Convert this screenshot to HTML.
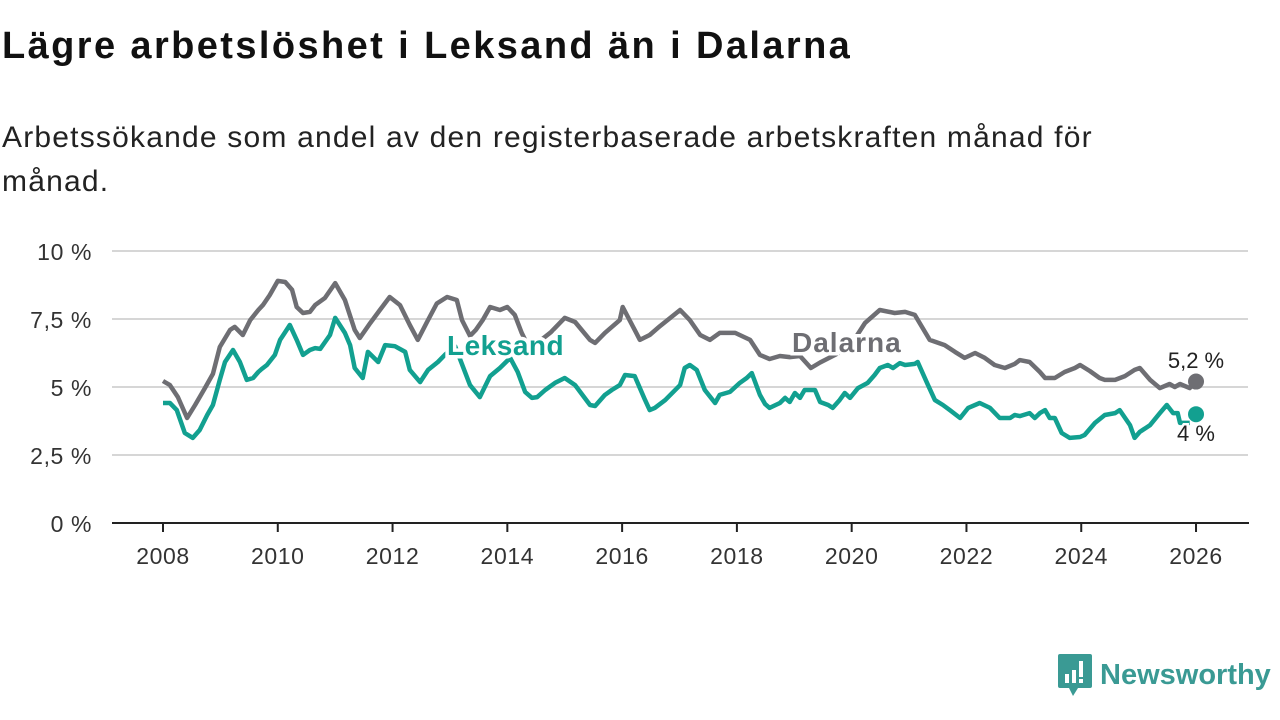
<!DOCTYPE html>
<html><head><meta charset="utf-8"><style>
body{margin:0;width:1280px;height:720px;background:#fff;font-family:"Liberation Sans","DejaVu Sans",sans-serif;overflow:hidden;position:relative}
#title{position:absolute;left:2px;top:25px;font-size:38px;font-weight:bold;color:#111;margin:0;letter-spacing:2.4px;white-space:nowrap}
#sub{position:absolute;left:2px;top:116px;font-size:30px;line-height:44px;color:#222;width:1200px;letter-spacing:1.2px}
svg{position:absolute;left:0;top:0}
#logo{position:absolute;left:1058px;top:654px;display:flex;align-items:center}
#logo span{font-size:29px;font-weight:bold;color:#3a9a94;margin-left:8px}
</style></head><body>
<h1 id="title">Lägre arbetslöshet i Leksand än i Dalarna</h1>
<div id="sub">Arbetssökande som andel av den registerbaserade arbetskraften månad för<br>månad.</div>
<svg id="chart" width="1280" height="720"></svg>
<div id="logo">
<svg width="34" height="42" viewBox="0 0 34 42" style="position:static"><path d="M2 0h30a2 2 0 0 1 2 2v30a2 2 0 0 1-2 2H20l-5 8-4-8H2a2 2 0 0 1-2-2V2a2 2 0 0 1 2-2z" fill="#3a9a94"/><rect x="7" y="20" width="4" height="9" fill="#fff"/><rect x="14" y="16" width="4" height="13" fill="#fff"/><rect x="21" y="7" width="4" height="16" fill="#fff"/><rect x="21" y="25" width="4" height="4" fill="#fff"/></svg>
<span>Newsworthy</span></div>
<script>
const yTicks=[0,2.5,5,7.5,10];
const yTickLabels=["0 %","2,5 %","5 %","7,5 %","10 %"];
const xTicks=[2008,2010,2012,2014,2016,2018,2020,2022,2024,2026];
const dalT=[0,0.12,0.26,0.42,0.56,0.73,0.87,0.99,1.17,1.25,1.39,1.52,1.66,1.74,1.86,2.00,2.13,2.25,2.33,2.44,2.56,2.65,2.82,3.00,3.17,3.34,3.43,3.61,3.78,3.95,4.13,4.30,4.44,4.60,4.77,4.95,5.12,5.21,5.35,5.45,5.57,5.70,5.87,6.00,6.13,6.25,6.34,6.57,6.76,7.00,7.18,7.44,7.53,7.70,7.96,8.01,8.31,8.48,8.66,9.01,9.18,9.36,9.53,9.70,9.97,10.23,10.40,10.57,10.75,10.92,11.10,11.29,11.45,11.71,11.97,12.23,12.49,12.75,12.93,13.10,13.36,13.62,13.80,13.97,14.15,14.32,14.49,14.67,14.84,14.93,15.10,15.28,15.37,15.54,15.71,15.89,15.98,16.15,16.32,16.41,16.59,16.76,16.93,17.02,17.20,17.37,17.54,17.63,17.72,17.89,18.00];
const dalV=[5.22,5.07,4.63,3.86,4.34,4.96,5.48,6.47,7.10,7.21,6.91,7.46,7.83,8.01,8.38,8.90,8.86,8.57,7.94,7.72,7.76,8.01,8.27,8.82,8.20,7.10,6.80,7.35,7.83,8.31,8.01,7.28,6.73,7.39,8.07,8.31,8.20,7.46,6.88,7.10,7.46,7.94,7.83,7.94,7.65,6.99,6.60,6.70,7.02,7.54,7.39,6.73,6.62,6.99,7.46,7.94,6.73,6.91,7.24,7.83,7.46,6.91,6.73,6.99,6.99,6.73,6.18,6.03,6.14,6.10,6.14,5.70,5.90,6.18,6.50,7.35,7.83,7.72,7.76,7.65,6.73,6.54,6.29,6.07,6.25,6.07,5.81,5.70,5.85,5.99,5.92,5.55,5.33,5.33,5.55,5.70,5.81,5.59,5.33,5.26,5.26,5.40,5.63,5.70,5.26,4.96,5.11,5.00,5.11,4.96,5.22];
const lekT=[0,0.12,0.24,0.38,0.52,0.64,0.77,0.87,0.99,1.08,1.22,1.34,1.46,1.57,1.66,1.72,1.81,1.95,2.04,2.13,2.21,2.33,2.44,2.56,2.65,2.74,2.91,3.00,3.17,3.26,3.34,3.48,3.57,3.75,3.87,4.04,4.22,4.30,4.48,4.62,4.79,4.91,5.09,5.35,5.52,5.70,5.87,6.05,6.18,6.31,6.43,6.52,6.66,6.83,7.00,7.18,7.44,7.53,7.70,7.82,7.96,8.05,8.22,8.40,8.48,8.57,8.75,9.01,9.09,9.18,9.30,9.44,9.62,9.70,9.88,10.05,10.17,10.26,10.40,10.49,10.57,10.75,10.84,10.92,11.01,11.10,11.18,11.36,11.45,11.59,11.67,11.79,11.88,11.97,12.11,12.28,12.40,12.49,12.63,12.72,12.84,12.93,13.10,13.15,13.33,13.45,13.59,13.71,13.89,14.03,14.23,14.41,14.58,14.76,14.84,14.93,15.10,15.19,15.28,15.37,15.45,15.54,15.66,15.80,15.98,16.06,16.24,16.41,16.59,16.67,16.85,16.93,17.02,17.20,17.37,17.49,17.60,17.68,17.72,17.89];
const lekV=[4.41,4.41,4.15,3.31,3.13,3.42,3.97,4.34,5.26,5.92,6.36,5.92,5.26,5.33,5.55,5.66,5.81,6.18,6.73,7.02,7.28,6.73,6.18,6.36,6.43,6.40,6.91,7.54,6.99,6.54,5.70,5.33,6.29,5.92,6.54,6.50,6.29,5.63,5.18,5.63,5.92,6.18,6.50,5.07,4.63,5.40,5.70,6.07,5.55,4.82,4.60,4.63,4.89,5.15,5.33,5.07,4.34,4.30,4.71,4.89,5.07,5.44,5.40,4.52,4.15,4.23,4.52,5.07,5.70,5.81,5.63,4.89,4.41,4.71,4.82,5.15,5.33,5.51,4.71,4.38,4.23,4.41,4.60,4.45,4.78,4.60,4.89,4.89,4.45,4.34,4.23,4.52,4.78,4.60,4.96,5.15,5.44,5.70,5.81,5.70,5.88,5.81,5.85,5.92,5.07,4.52,4.34,4.15,3.86,4.23,4.41,4.23,3.86,3.86,3.97,3.93,4.04,3.86,4.04,4.15,3.86,3.86,3.31,3.13,3.16,3.24,3.68,3.97,4.04,4.15,3.60,3.13,3.35,3.60,4.04,4.34,4.04,4.04,3.68,3.68];
const dalLast=5.2, lekLast=4.0;
const ns="http://www.w3.org/2000/svg";
const svg=document.getElementById('chart');
const X=t=>163+(t-2008)*57.39, Xo=o=>163+o*57.39, Y=v=>523-v*27.2;
function mk(tag,at,txt){const e=document.createElementNS(ns,tag);for(const k in at)e.setAttribute(k,at[k]);if(txt!=null)e.textContent=txt;svg.appendChild(e);return e;}
yTicks.forEach((v,i)=>{
  if(v>0){const g=mk('line',{x1:112,x2:1248,y1:Y(v),y2:Y(v),stroke:'#d6d6d6','stroke-width':2});
  
  }
  const t=mk('text',{x:92,y:Y(v)+9,'text-anchor':'end','font-size':23,'letter-spacing':0.6,fill:'#333'},yTickLabels[i]);
  
  
});
const ax=mk('line',{x1:112,x2:1249,y1:523,y2:523,stroke:'#222','stroke-width':2});


xTicks.forEach(y=>{
  const tk=mk('line',{x1:X(y),x2:X(y),y1:523,y2:532,stroke:'#222','stroke-width':2});
  
  
  const t=mk('text',{x:X(y),y:564,'text-anchor':'middle','font-size':23,'letter-spacing':0.6,fill:'#333'},y);
  
  
});
function path(T,V){return T.map((t,i)=>(i?'L':'M')+Xo(t).toFixed(1)+' '+Y(V[i]).toFixed(1)).join('');}
const pd=mk('path',{d:path(dalT,dalV),fill:'none',stroke:'#6e6e73','stroke-width':4.5,'stroke-linejoin':'round'});


const pl=mk('path',{d:path(lekT,lekV),fill:'none',stroke:'#12a090','stroke-width':4.5,'stroke-linejoin':'round'});


const d1=mk('circle',{cx:X(2026),cy:Y(dalLast),r:8,fill:'#6e6e73'});


const d2=mk('circle',{cx:X(2026),cy:Y(lekLast),r:8,fill:'#12a090'});


const l1=mk('text',{x:1196,y:368,'text-anchor':'middle','font-size':22,fill:'#222',stroke:'#fff','stroke-width':5,'paint-order':'stroke'},'5,2 %');


const l2=mk('text',{x:1196,y:441,'text-anchor':'middle','font-size':22,fill:'#222',stroke:'#fff','stroke-width':5,'paint-order':'stroke'},'4 %');


const s1=mk('text',{x:792,y:352,'font-size':28,'font-weight':'bold','letter-spacing':1,fill:'#6e6e73',stroke:'#fff','stroke-width':7,'paint-order':'stroke'},'Dalarna');


const s2=mk('text',{x:447,y:355,'font-size':28,'font-weight':'bold','letter-spacing':0.5,fill:'#12a090',stroke:'#fff','stroke-width':7,'paint-order':'stroke'},'Leksand');


</script>
</body></html>
